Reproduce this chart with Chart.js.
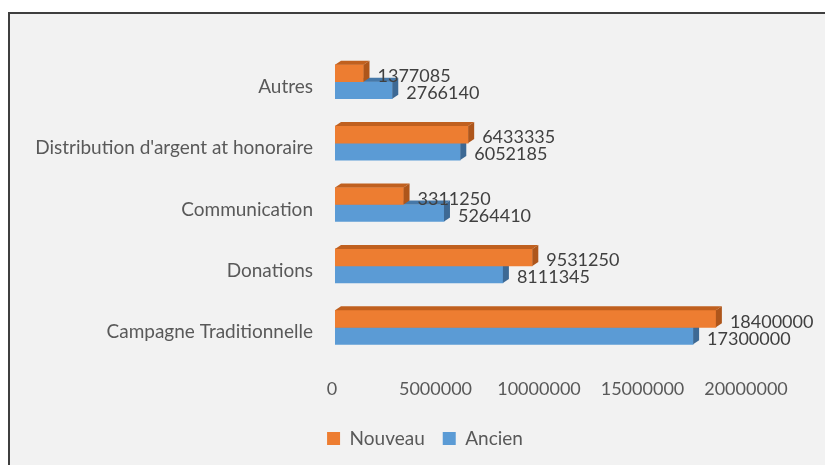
<!DOCTYPE html>
<html>
<head>
<meta charset="utf-8">
<script src="https://cdn.jsdelivr.net/npm/chart.js@4.4.0/dist/chart.umd.min.js"></script>
<style>
  html, body { margin: 0; padding: 0; background: #fff; overflow: hidden; }
  #frame { position: absolute; left: 8px; top: 12px; width: 900px; height: 500px; border: 2px solid #3f3f3f; background: #f2f2f2; }
  #chart { position: absolute; left: 0; top: 0; }
</style>
</head>
<body>
<div id="frame"></div>
<canvas id="chart" width="825" height="465"></canvas>
<script>
const categories = ['Autres', "Distribution d'argent at honoraire", 'Communication', 'Donations', 'Campagne Traditionnelle'];
const nouveau = [1377085, 6433335, 3311250, 9531250, 18400000];
const ancien = [2766140, 6052185, 5264410, 8111345, 17300000];
const xTicks = [0, 5000000, 10000000, 15000000, 20000000];

const FONT = 'Lato';
const textGrey = '#595959';

// fake 3D: top face + right side face on each bar
const bar3d = {
    id: 'bar3d',
    afterDatasetDraw(chart, args) {
        const ctx = chart.ctx;
        const ds = chart.data.datasets[args.index];
        const dx = 6, dy = 4;
        args.meta.data.forEach(bar => {
            const top = bar.y - bar.height / 2;
            const bottom = bar.y + bar.height / 2;
            const x0 = bar.base, x1 = bar.x;
            ctx.save();
            ctx.fillStyle = ds.topColor;
            ctx.beginPath();
            ctx.moveTo(x0, top);
            ctx.lineTo(x0 + dx, top - dy);
            ctx.lineTo(x1 + dx, top - dy);
            ctx.lineTo(x1, top);
            ctx.closePath();
            ctx.fill();
            ctx.fillStyle = ds.sideColor;
            ctx.beginPath();
            ctx.moveTo(x1, top);
            ctx.lineTo(x1 + dx, top - dy);
            ctx.lineTo(x1 + dx, bottom - dy);
            ctx.lineTo(x1, bottom);
            ctx.closePath();
            ctx.fill();
            ctx.restore();
        });
    }
};

// value labels to the right of each bar
const valueLabels = {
    id: 'valueLabels',
    afterDatasetsDraw(chart) {
        const ctx = chart.ctx;
        ctx.save();
        ctx.font = `18px ${FONT}`;
        ctx.fillStyle = '#404040';
        ctx.textAlign = 'left';
        ctx.textBaseline = 'middle';
        chart.data.datasets.forEach((ds, i) => {
            chart.getDatasetMeta(i).data.forEach((bar, j) => {
                ctx.fillText(String(ds.data[j]), bar.x + 14, bar.y + 3);
            });
        });
        ctx.restore();
    }
};

// legend sits under the plot rather than under the whole canvas
const legendSpan = {
    id: 'legendSpan',
    afterLayout(chart) {
        const lg = chart.legend;
        const area = chart.chartArea;
        lg.left = area.left - 234;
        lg.right = area.right;
        lg.width = lg.right - lg.left;
    }
};

new Chart(document.getElementById('chart'), {
    type: 'bar',
    data: {
        labels: categories,
        datasets: [{
            label: 'Nouveau',
            data: nouveau,
            backgroundColor: '#ed7d31',
            topColor: '#c0601f',
            sideColor: '#ae561b',
            barThickness: 17
        }, {
            label: 'Ancien',
            data: ancien,
            backgroundColor: '#5b9bd5',
            topColor: '#4678a8',
            sideColor: '#3d6994',
            barThickness: 17
        }]
    },
    options: {
        indexAxis: 'y',
        responsive: false,
        animation: false,
        layout: { padding: { left: 15, right: 76, top: 51, bottom: 7 } },
        plugins: {
            legend: {
                position: 'bottom',
                labels: {
                    boxWidth: 13,
                    boxHeight: 13,
                    padding: 18,
                    color: textGrey,
                    font: { family: FONT, size: 19 }
                }
            },
            tooltip: { enabled: false }
        },
        scales: {
            x: {
                min: 0,
                max: 20000000,
                afterBuildTicks: s => { s.ticks = xTicks.map(v => ({ value: v })); },
                afterFit: s => { s.height = 53; },
                grid: { display: false, drawTicks: false },
                border: { display: false },
                ticks: {
                    padding: 20,
                    labelOffset: -3,
                    maxRotation: 0,
                    color: textGrey,
                    font: { family: FONT, size: 18 },
                    callback: v => String(v)
                }
            },
            y: {
                afterFit: s => { s.width = 320; },
                grid: { display: false, drawTicks: false },
                border: { display: false },
                ticks: {
                    padding: 22,
                    labelOffset: 5,
                    color: textGrey,
                    font: { family: FONT, size: 19 }
                }
            }
        }
    },
    plugins: [bar3d, valueLabels, legendSpan]
});
</script>
</body>
</html>
